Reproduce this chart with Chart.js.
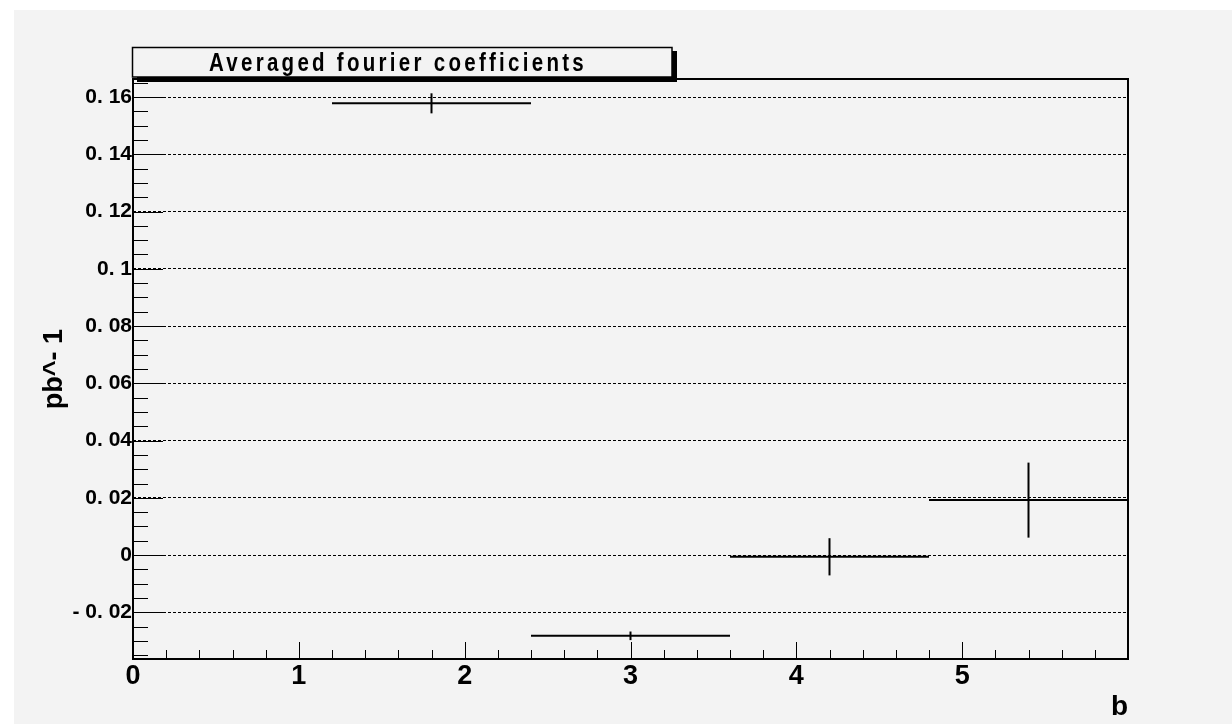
<!DOCTYPE html>
<html>
<head>
<meta charset="utf-8">
<script src="https://cdn.jsdelivr.net/npm/chart.js@4.4.0/dist/chart.umd.min.js"></script>
<style>
    html, body { margin: 0; padding: 0; background: #fff; }
    #wrap { width: 1232px; height: 724px; }
</style>
</head>
<body>
<div id="wrap"><canvas id="fourier" width="1232" height="724"></canvas></div>
<script>
const titulo = 'Averaged fourier coefficients';
const tituloX = 'b';
const tituloY = 'pb^- 1';

// bins (bordes) y medidas con su error
const binEdges = [1.2, 2.4, 3.6, 4.8, 6.0];
const centros = [1.8, 3.0, 4.2, 5.4];
const valores = [0.1578, -0.0282, -0.0006, 0.0192];
const errores = [0.0035, 0.0015, 0.0065, 0.0131];

const xRange = [0, 6];
const yRange = [-0.0363, 0.1663];
const xTicks = [0, 1, 2, 3, 4, 5];
const xTickLabels = ['0', '1', '2', '3', '4', '5'];
const yTicks = [-0.02, 0, 0.02, 0.04, 0.06, 0.08, 0.1, 0.12, 0.14, 0.16];
const yTickLabels = ['- 0. 02', '0', '0. 02', '0. 04', '0. 06', '0. 08', '0. 1', '0. 12', '0. 14', '0. 16'];

const FUENTE = "'Liberation Sans', Arial, sans-serif";
const GRIS = '#f3f3f3';

function segmentos() {
    let sets = [];
    centros.forEach((c, i) => {
        sets.push([{x: binEdges[i], y: valores[i]}, {x: binEdges[i + 1], y: valores[i]}]);
        sets.push([{x: c, y: valores[i] - errores[i]}, {x: c, y: valores[i] + errores[i]}]);
    });
    return sets.map(data => {
        return {
            data: data,
            showLine: true,
            borderColor: '#000',
            borderWidth: 2,
            pointRadius: 0,
            fill: false,
        }
    });
}

const fondo = {
    id: 'fondo',
    beforeDraw(chart) {
        const ctx = chart.ctx;
        ctx.save();
        ctx.fillStyle = '#fff';
        ctx.fillRect(0, 0, chart.width, chart.height);
        ctx.fillStyle = GRIS;
        ctx.fillRect(14, 10, chart.width - 14, chart.height - 10);
        ctx.restore();
    }
};

// marcas hacia dentro, marco y caja del titulo (estilo ROOT)
const marco = {
    id: 'marco',
    afterDraw(chart) {
        const {ctx, chartArea: a, scales: {x, y}} = chart;
        ctx.save();
        ctx.strokeStyle = '#000';
        ctx.lineWidth = 1;
        ctx.beginPath();
        for (let k = Math.ceil(y.min / 0.005); k * 0.005 <= y.max; k++) {
            let py = Math.round(y.getPixelForValue(k * 0.005)) + 0.5;
            ctx.moveTo(a.left, py);
            ctx.lineTo(a.left + (k % 4 === 0 ? 30 : 15), py);
        }
        for (let k = 1; k < 30; k++) {
            let px = Math.round(x.getPixelForValue(k * 0.2)) + 0.5;
            ctx.moveTo(px, a.bottom);
            ctx.lineTo(px, a.bottom - (k % 5 === 0 ? 17 : 9));
        }
        ctx.stroke();

        ctx.lineWidth = 2;
        ctx.strokeRect(a.left, a.top, a.right - a.left, a.bottom - a.top);

        // caja del titulo con sombra
        ctx.fillStyle = '#000';
        ctx.fillRect(672, 51, 5, 31);
        ctx.fillRect(137, 77, 540, 5);
        ctx.fillStyle = GRIS;
        ctx.fillRect(132.5, 47.5, 539.5, 29.5);
        ctx.lineWidth = 1.5;
        ctx.strokeRect(132.5, 47.5, 539.5, 29.5);

        ctx.fillStyle = '#000';
        ctx.font = `bold 25px ${FUENTE}`;
        ctx.textAlign = 'center';
        ctx.textBaseline = 'alphabetic';
        if ('letterSpacing' in ctx) ctx.letterSpacing = '4px';
        ctx.translate(398, 71);
        ctx.scale(0.82, 1);
        ctx.fillText(titulo, 0, 0);
        ctx.restore();
    }
};

document.addEventListener('DOMContentLoaded', () => {
    let chart = new Chart(document.getElementById('fourier').getContext('2d'), {
        type: 'scatter',
        data: {datasets: segmentos()},
        options: {
            responsive: false,
            animation: false,
            devicePixelRatio: 1,
            layout: {padding: {top: 79, right: 104, left: 0, bottom: 0}},
            plugins: {
                legend: {display: false},
                tooltip: {enabled: false},
            },
            scales: {
                x: {
                    type: 'linear',
                    min: xRange[0],
                    max: xRange[1],
                    afterBuildTicks: scale => { scale.ticks = xTicks.map(v => ({value: v})); },
                    afterFit: scale => { scale.height = 65; },
                    grid: {display: false, drawTicks: false},
                    border: {display: false},
                    ticks: {
                        color: '#000',
                        padding: 1,
                        maxRotation: 0,
                        font: {family: FUENTE, size: 27, weight: 'bold'},
                        callback: (v, i) => xTickLabels[i],
                    },
                    title: {
                        display: true,
                        text: tituloX,
                        align: 'end',
                        color: '#000',
                        padding: {top: 0, bottom: 0},
                        font: {family: FUENTE, size: 28, weight: 'bold'},
                    }
                },
                y: {
                    type: 'linear',
                    min: yRange[0],
                    max: yRange[1],
                    afterBuildTicks: scale => { scale.ticks = yTicks.map(v => ({value: v})); },
                    afterFit: scale => { scale.width = 133; },
                    grid: {color: '#000', lineWidth: 1, drawTicks: false},
                    border: {display: false, dash: [3, 2]},
                    ticks: {
                        color: '#000',
                        padding: 1,
                        font: {family: FUENTE, size: 21, weight: 'bold'},
                        callback: (v, i) => yTickLabels[i],
                    },
                    title: {
                        display: true,
                        text: tituloY,
                        color: '#000',
                        padding: {top: 38, bottom: 0},
                        font: {family: FUENTE, size: 27, weight: 'bold'},
                    }
                }
            }
        },
        plugins: [fondo, marco]
    });
});
</script>
</body>
</html>
